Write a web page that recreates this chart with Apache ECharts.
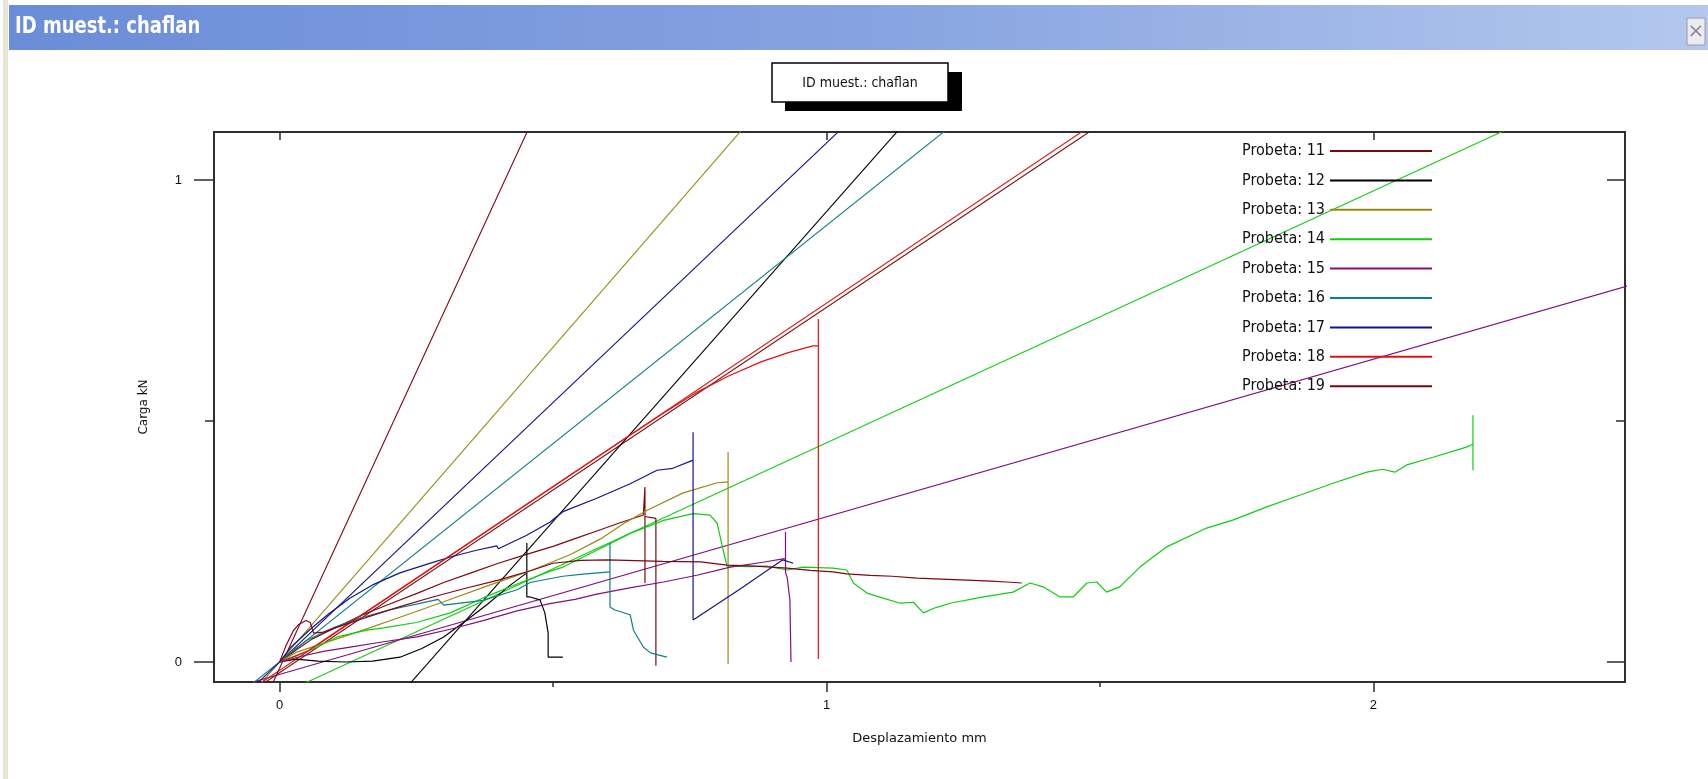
<!DOCTYPE html>
<html>
<head>
<meta charset="utf-8">
<title>ID muest.: chaflan</title>
<script src="https://cdn.jsdelivr.net/npm/echarts@6/dist/echarts.min.js"></script>
<style>
  html, body { margin: 0; padding: 0; background: #ffffff; }
  #chart { width: 1708px; height: 779px; }
</style>
</head>
<body>
<div id="chart"></div>
<script>
// Specimens of the "chaflan" sample and their pen colours
const probetas = ['Probeta: 11', 'Probeta: 12', 'Probeta: 13', 'Probeta: 14', 'Probeta: 15',
                  'Probeta: 16', 'Probeta: 17', 'Probeta: 18', 'Probeta: 19'];
const colores = ['#7a0a0a', '#000000', '#9a8a12', '#12cc12', '#80107e',
                 '#0a7f86', '#14148e', '#e41010', '#7e0614'];

// Load–displacement records, [desplazamiento mm, carga kN]
const curva11 = [[0,0],[0.03,0.025],[0.06,0.048],[0.1,0.07],[0.15,0.097],[0.2,0.12],[0.25,0.142],
  [0.3,0.165],[0.35,0.185],[0.4,0.205],[0.45,0.223],[0.5,0.24],[0.54,0.256],[0.58,0.272],[0.62,0.288],
  [0.665,0.305],[0.668,0.305],[0.668,0.363],[0.668,0.164],[0.668,0.302],[0.688,0.298],[0.688,-0.008]];
const curva12 = [[0,0],[0.03,0.006],[0.07,0.002],[0.12,0.0],[0.17,0.002],[0.22,0.01],[0.26,0.028],
  [0.3,0.052],[0.34,0.085],[0.38,0.12],[0.42,0.158],[0.452,0.185],[0.452,0.247],[0.452,0.135],
  [0.458,0.135],[0.476,0.129],[0.485,0.102],[0.491,0.06],[0.491,0.01],[0.518,0.01]];
const curva13 = [[0,0],[0.03,0.02],[0.07,0.035],[0.15,0.065],[0.22,0.093],[0.3,0.125],[0.38,0.158],
  [0.46,0.19],[0.53,0.222],[0.586,0.255],[0.63,0.288],[0.672,0.315],[0.738,0.351],[0.8,0.372],
  [0.82,0.374],[0.82,0.436],[0.82,-0.004]];
const curva14 = [[0,0],[0.03,0.012],[0.069,0.031],[0.105,0.052],[0.16,0.066],[0.19,0.071],[0.25,0.082],
  [0.312,0.102],[0.372,0.133],[0.434,0.162],[0.494,0.188],[0.518,0.197],[0.58,0.232],[0.641,0.267],
  [0.702,0.294],[0.756,0.308],[0.787,0.305],[0.8,0.288],[0.811,0.232],[0.818,0.199],[0.86,0.198],
  [0.891,0.199],[0.928,0.191],[0.957,0.197],[1.012,0.195],[1.037,0.191],[1.049,0.164],[1.074,0.143],
  [1.105,0.132],[1.135,0.122],[1.159,0.124],[1.177,0.102],[1.2,0.113],[1.226,0.122],[1.287,0.135],
  [1.341,0.145],[1.372,0.164],[1.396,0.156],[1.427,0.135],[1.451,0.135],[1.476,0.164],[1.494,0.166],
  [1.512,0.145],[1.536,0.156],[1.573,0.197],[1.622,0.239],[1.695,0.278],[1.744,0.295],[1.805,0.322],
  [1.865,0.346],[1.926,0.371],[1.988,0.394],[2.017,0.4],[2.039,0.394],[2.061,0.409],[2.109,0.425],
  [2.17,0.446],[2.182,0.452],[2.182,0.512],[2.182,0.398]];
const curva15 = [[0,0],[0.04,0.012],[0.08,0.022],[0.129,0.031],[0.19,0.042],[0.251,0.052],[0.312,0.068],
  [0.372,0.086],[0.434,0.106],[0.494,0.121],[0.54,0.13],[0.58,0.141],[0.64,0.154],[0.702,0.166],
  [0.763,0.18],[0.824,0.197],[0.884,0.207],[0.92,0.214],[0.925,0.214],[0.925,0.27],[0.925,0.185],
  [0.928,0.176],[0.933,0.129],[0.935,0.0]];
const curva16 = [[0,0],[0.02,0.02],[0.05,0.045],[0.1,0.072],[0.15,0.092],[0.2,0.108],[0.25,0.12],
  [0.29,0.13],[0.3,0.118],[0.372,0.128],[0.434,0.15],[0.458,0.165],[0.518,0.178],[0.56,0.183],
  [0.604,0.187],[0.604,0.247],[0.604,0.114],[0.613,0.108],[0.641,0.098],[0.647,0.066],[0.665,0.031],
  [0.678,0.019],[0.708,0.01]];
const curva17 = [[0,0],[0.02,0.03],[0.056,0.068],[0.09,0.1],[0.129,0.133],[0.17,0.16],[0.22,0.185],
  [0.27,0.203],[0.312,0.218],[0.36,0.232],[0.397,0.241],[0.4,0.235],[0.45,0.262],[0.494,0.29],
  [0.518,0.312],[0.58,0.34],[0.641,0.37],[0.69,0.398],[0.719,0.402],[0.756,0.419],[0.756,0.477],
  [0.756,0.087],[0.84,0.15],[0.92,0.212],[0.939,0.205]];
const curva18 = [[0,0],[0.05,0.022],[0.1,0.06],[0.2,0.136],[0.3,0.212],[0.4,0.288],[0.5,0.364],
  [0.6,0.44],[0.7,0.515],[0.76,0.558],[0.82,0.593],[0.88,0.623],[0.93,0.642],[0.975,0.656],
  [0.985,0.656],[0.985,0.712],[0.985,0.006]];
const curva19 = [[0,0],[0.012,0.035],[0.025,0.065],[0.035,0.078],[0.048,0.086],[0.056,0.082],
  [0.062,0.06],[0.08,0.062],[0.12,0.078],[0.16,0.093],[0.22,0.115],[0.28,0.135],[0.34,0.153],
  [0.4,0.17],[0.46,0.19],[0.5,0.205],[0.55,0.211],[0.6,0.212],[0.7,0.209],[0.77,0.208],[0.818,0.201],
  [0.87,0.199],[0.928,0.195],[0.97,0.19],[1.012,0.187],[1.037,0.183],[1.08,0.18],[1.12,0.178],
  [1.165,0.174],[1.21,0.172],[1.257,0.17],[1.3,0.168],[1.33,0.166],[1.357,0.164]];

// Fitted stiffness lines, two end points each [mm, kN]; the plot frame clips them
const recta11 = [[-0.06, -0.0675], [1.65, 1.2287]];
const recta12 = [[0.2, -0.094], [1.2, 1.192]];
const recta13 = [[-0.05, -0.065], [0.9, 1.176]];
const recta14 = [[0.0, -0.068], [2.4, 1.187]];
const recta15 = [[-0.05, -0.042], [2.5, 0.792]];
const recta16 = [[-0.05, -0.045], [1.3, 1.178]];
const recta17 = [[-0.05, -0.054], [1.1, 1.185]];
const recta18 = [[-0.06, -0.063], [1.6, 1.202]];
const recta19 = [[-0.02, -0.062], [0.5, 1.217]];

const curvas = [curva11, curva12, curva13, curva14, curva15, curva16, curva17, curva18, curva19];
const rectas = [recta11, recta12, recta13, recta14, recta15, recta16, recta17, recta18, recta19];

// Axis ticks and labels
const marcasX = [0, 1, 2];
const marcasXMenores = [0.5, 1.5];
const marcasY = [0, 1];
const marcasYMenores = [0.5];

const fuenteEstrecha = "'Liberation Sans Narrow', 'DejaVu Sans Condensed', 'Liberation Sans', sans-serif";
const fuenteEje = "'Liberation Sans', Arial, sans-serif";
const colorMarco = '#2e2e2e';

const chart = echarts.init(document.getElementById('chart'), null, { renderer: 'canvas' });

const series = [];
probetas.forEach(function (nombre, i) {
  series.push({
    name: nombre, type: 'line', data: curvas[i], color: colores[i],
    showSymbol: false, symbol: 'none', clip: true,
    lineStyle: { width: 1.2 }, z: 3
  });
  series.push({
    name: nombre, type: 'line', data: rectas[i], color: colores[i],
    showSymbol: false, symbol: 'none', clip: true,
    lineStyle: { width: 1.1 }, z: 2
  });
});

function ejeX(pos, marcas, largo, dentro, conLinea, conEtiqueta, extra) {
  return Object.assign({
    type: 'value', position: pos, min: -0.12, max: 2.46,
    splitLine: { show: false },
    axisLine: { show: conLinea, onZero: false, lineStyle: { color: colorMarco, width: 2 } },
    axisTick: { show: true, customValues: marcas, length: largo, inside: dentro,
                lineStyle: { color: colorMarco, width: 1.5 } },
    axisLabel: { show: conEtiqueta, customValues: marcas, margin: 17, color: '#111',
                 fontSize: 13, fontFamily: fuenteEje }
  }, extra || {});
}
function ejeY(pos, marcas, largo, dentro, conLinea, conEtiqueta, extra) {
  return Object.assign({
    type: 'value', position: pos, min: -0.0415, max: 1.10,
    splitLine: { show: false },
    axisLine: { show: conLinea, onZero: false, lineStyle: { color: colorMarco, width: 2 } },
    axisTick: { show: true, customValues: marcas, length: largo, inside: dentro,
                lineStyle: { color: colorMarco, width: 1.5 } },
    axisLabel: { show: conEtiqueta, customValues: marcas, margin: 32, color: '#111',
                 fontSize: 13, fontFamily: fuenteEje }
  }, extra || {});
}

const option = {
  animation: false,
  backgroundColor: '#ffffff',
  grid: { left: 214, top: 132, width: 1411, height: 550, containLabel: false },
  xAxis: [
    ejeX('bottom', marcasX, 10, false, true, true, {
      name: 'Desplazamiento mm', nameLocation: 'middle', nameGap: 50,
      nameTextStyle: { fontSize: 13, color: '#111', fontFamily: "'DejaVu Sans', sans-serif" }
    }),
    ejeX('bottom', marcasXMenores, 5, false, false, false),
    ejeX('top', marcasX, 8, true, true, false)
  ],
  yAxis: [
    ejeY('left', marcasY, 20, false, true, true, {
      name: 'Carga kN', nameLocation: 'middle', nameGap: 64, nameRotate: 90,
      nameTextStyle: { fontSize: 12, color: '#111', fontFamily: "'DejaVu Sans', sans-serif" }
    }),
    ejeY('left', marcasYMenores, 9, false, false, false),
    ejeY('right', marcasY, 18, true, true, false),
    ejeY('right', marcasYMenores, 9, true, false, false)
  ],
  legend: {
    data: probetas, orient: 'vertical', right: 276, top: 143, align: 'right',
    icon: 'rect', itemWidth: 102, itemHeight: 2, itemGap: 13.4, padding: 0,
    selectedMode: false,
    textStyle: { fontSize: 16, lineHeight: 16, color: '#111', fontFamily: fuenteEstrecha }
  },
  graphic: [
    // left window edge
    { type: 'rect', shape: { x: 3, y: 0, width: 5, height: 779 }, style: { fill: '#e9e5d6' }, z: 0 },
    // window title bar
    { type: 'rect', shape: { x: 9, y: 5, width: 1699, height: 45 },
      style: { fill: new echarts.graphic.LinearGradient(0, 0, 1, 0, [
        { offset: 0, color: '#6b8cd8' }, { offset: 0.5, color: '#86a3e0' }, { offset: 1, color: '#b4c8ee' }
      ]) }, z: 0 },
    { type: 'text', x: 15, y: 27, scaleX: 0.87,
      style: { text: 'ID muest.: chaflan', fill: '#ffffff', fontSize: 23, fontWeight: 'bold',
               fontFamily: fuenteEstrecha, verticalAlign: 'middle', align: 'left' }, z: 1 },
    // close button
    { type: 'rect', shape: { x: 1687, y: 18, width: 18, height: 27 },
      style: { fill: '#ecebf0', stroke: '#9a9aa6', lineWidth: 1 }, z: 1 },
    { type: 'text', x: 1696, y: 32,
      style: { text: '×', fill: '#8a8a96', fontSize: 20, fontFamily: "'DejaVu Sans', sans-serif",
               align: 'center', verticalAlign: 'middle' }, z: 2 },
    // caption box with drop shadow
    { type: 'rect', shape: { x: 785, y: 72, width: 177, height: 39 }, style: { fill: '#000000' }, z: 1 },
    { type: 'rect', shape: { x: 772, y: 63, width: 176, height: 39 },
      style: { fill: '#ffffff', stroke: '#000000', lineWidth: 1.5 }, z: 2 },
    { type: 'text', x: 860, y: 83,
      style: { text: 'ID muest.: chaflan', fill: '#111111', fontSize: 14,
               fontFamily: fuenteEstrecha, align: 'center', verticalAlign: 'middle' }, z: 3 }
  ],
  series: series
};

chart.setOption(option);
</script>
</body>
</html>
